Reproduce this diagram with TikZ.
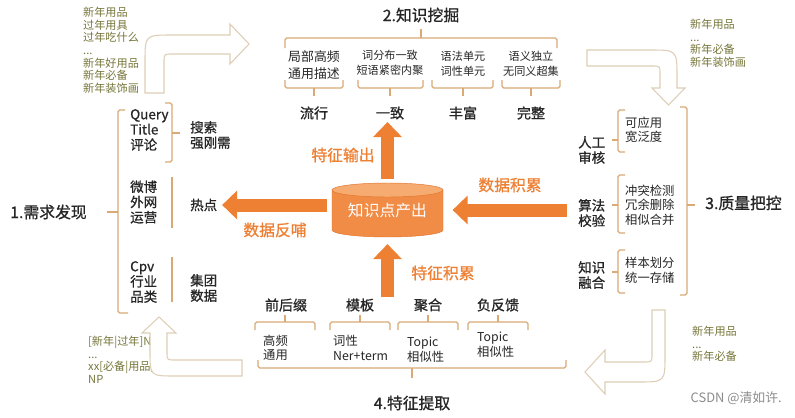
\documentclass[tikz,border=0pt]{standalone}
\usepackage{fontspec}
\setmainfont{Noto Sans CJK SC}[AutoFakeBold=0.9]
\usetikzlibrary{arrows.meta}
\definecolor{orng}{RGB}{238,128,52}
\definecolor{brkc}{RGB}{218,170,118}
\definecolor{holc}{RGB}{222,206,182}
\definecolor{kwc}{RGB}{118,118,58}
\definecolor{cylc}{RGB}{240,140,70}
\definecolor{cyltop}{RGB}{246,172,112}
\definecolor{cyledge}{RGB}{226,116,46}

\begin{document}
\begin{tikzpicture}[x=0.03cm,y=-0.03cm,inner sep=0pt,
  secttl/.style={font=\fontsize{13.5}{15}\selectfont\bfseries,text=black!85},
  itm/.style={font=\fontsize{11.5}{13}\selectfont\bfseries,align=left,text=black!85},
  sitm/.style={font=\fontsize{10.5}{12.5}\selectfont,align=left,text=black!85},
  minor/.style={font=\fontsize{9.5}{12.5}\selectfont,align=center,text=black!85},
  lbl/.style={font=\fontsize{12}{14}\selectfont\bfseries,text=black!85},
  kw/.style={font=\fontsize{9.5}{10.8}\selectfont,align=left,text=kwc},
  olbl/.style={font=\fontsize{13.5}{15}\selectfont\bfseries,text=orng},
  brk/.style={draw=brkc,line width=1.1pt,rounded corners=1.5pt},
  hollow/.style={draw=holc,fill=white,line width=0.9pt},
  blockarr/.style={draw=orng,line width=0.39cm,-{Triangle[width=0.84cm,length=0.45cm]}}]
\fill[white] (0,0) rectangle (795,417);

\node[kw,anchor=north west] (kwA) at (83,7) {新年用品\\过年用具\\过年吃什么\\...\\新年好用品\\新年必备\\新年装饰画};
\node[kw,anchor=north west] (kwB) at (690,19) {新年用品\\...\\新年必备\\新年装饰画};
\node[kw,anchor=north west] (kwC) at (692,326) {新年用品\\...\\新年必备};
\node[kw,anchor=north west] (kwD) at (88,336) {[新年|过年]N\\...\\xx[必备|用品]\\NP};

\draw[hollow] (145,93) -- (145,62) .. controls (145,35) .. (172,35) -- (230,35) -- (230,24) -- (249,44) -- (230,64) -- (230,54) -- (172,54) .. controls (164,54) .. (164,62) -- (164,93) -- cycle;
\draw[hollow] (587,50) -- (650,50) .. controls (677,50) .. (677,77) -- (677,88) -- (685,88) -- (668.5,105) -- (652,88) -- (660,88) -- (660,74) .. controls (660,66) .. (652,66) -- (587,66) -- cycle;
\draw[hollow] (652,310) -- (665,310) -- (665,355) .. controls (665,382) .. (638,382) -- (605,382) -- (605,394) -- (585,372) -- (605,350) -- (605,362) -- (644,362) .. controls (652,362) .. (652,354) -- cycle;
\draw[hollow] (150,333) -- (142,333) -- (159,317) -- (176,333) -- (167,333) -- (167,352) .. controls (167,360) .. (175,360) -- (242,360) -- (242,376) -- (175,376) .. controls (150,376) .. (150,351) -- cycle;

\node[secttl,anchor=west] (need) at (10,212) {1.需求发现};
\draw[brk] (125,110) -- (118,110) -- (118,313) -- (128,313);
\draw[brk] (118,212) -- (107,212);
\node[itm,anchor=west] (qry) at (130,130) {Query\\Title\\评论};
\node[itm,anchor=west] (sous) at (190,135) {搜索\\强刚需};
\draw[brk] (165,103) -- (172,103) -- (172,162) -- (165,162);
\draw[brk] (172,133) -- (180,133);
\node[itm,anchor=west] (wb) at (130,202) {微博\\外网\\运营};
\node[itm,anchor=west] (redian) at (190,205) {热点};
\draw[brk] (172,177) -- (172,228);
\node[itm,anchor=west] (cpv) at (130,282) {Cpv\\行业\\品类};
\node[itm,anchor=west] (jt) at (190,288) {集团\\数据};
\draw[brk] (172,257) -- (172,302);

\node[secttl] (mine) at (421,15) {2.知识挖掘};
\draw[brk] (285,48) -- (285,38) -- (557,38) -- (557,48);
\draw[brk] (421,38) -- (421,29);
\node[minor,font=\fontsize{11}{14}\selectfont] (jubu) at (314,65) {局部高频\\通用描述};
\node[minor] (cifen) at (390,63) {词分布一致\\短语紧密内聚};
\node[minor] (yufa) at (463,64) {语法单元\\词性单元};
\node[minor] (yuyi) at (531,64) {语义独立\\无同义超集};
\draw[brk] (285,80) -- (285,88) -- (343,88) -- (343,80);
\draw[brk] (314,88) -- (314,96);
\draw[brk] (358,80) -- (358,88) -- (423,88) -- (423,80);
\draw[brk] (390,88) -- (390,96);
\draw[brk] (432,80) -- (432,88) -- (493,88) -- (493,80);
\draw[brk] (463,88) -- (463,96);
\draw[brk] (502,80) -- (502,88) -- (560,88) -- (560,80);
\draw[brk] (531,88) -- (531,96);
\node[lbl] (liuxing) at (314,113) {流行};
\node[lbl] (yizhi) at (390,113) {一致};
\node[lbl] (fengfu) at (463,113) {丰富};
\node[lbl] (wanzheng) at (531,113) {完整};

\node[secttl,anchor=west] (qual) at (705,203) {3.质量把控};
\draw[brk] (680,107) -- (687,107) -- (687,295) -- (680,295);
\draw[brk] (687,205) -- (695,205);
\node[itm,anchor=west] (rg) at (578,150) {人工\\审核};
\node[sitm,anchor=west] (kyy) at (625,130) {可应用\\宽泛度};
\draw[brk] (625,110) -- (618,110) -- (618,152) -- (625,152);
\draw[brk] (618,140) -- (612,140);
\node[itm,anchor=west] (sf) at (578,213) {算法\\校验};
\node[sitm,anchor=west] (ct) at (625,205) {冲突检测\\冗余删除\\相似合并};
\draw[brk] (625,175) -- (618,175) -- (618,233) -- (625,233);
\draw[brk] (618,205) -- (612,205);
\node[itm,anchor=west] (zs) at (578,275) {知识\\融合};
\node[sitm,anchor=west] (yb) at (625,270) {样本划分\\统一存储};
\draw[brk] (625,250) -- (618,250) -- (618,293) -- (625,293);
\draw[brk] (618,272) -- (612,272);

\node[secttl] (feat) at (412,403) {4.特征提取};
\draw[brk] (258,360) -- (258,368) -- (566,368) -- (566,360);
\draw[brk] (412,368) -- (412,378);
\node[lbl] (qhz) at (286,305) {前后缀};
\node[lbl] (mb) at (360,305) {模板};
\node[lbl] (jh) at (428,305) {聚合};
\node[lbl] (ffk) at (498,305) {负反馈};
\draw[brk] (255,330) -- (255,322) -- (315,322) -- (315,330);
\draw[brk] (285,322) -- (285,315);
\draw[brk] (330,330) -- (330,322) -- (390,322) -- (390,330);
\draw[brk] (360,322) -- (360,315);
\draw[brk] (398,330) -- (398,322) -- (458,322) -- (458,330);
\draw[brk] (428,322) -- (428,315);
\draw[brk] (468,330) -- (468,322) -- (528,322) -- (528,330);
\draw[brk] (498,322) -- (498,315);
\node[sitm,anchor=west] (gp) at (263,348) {高频\\通用};
\node[sitm,anchor=west] (cx) at (333,348) {词性\\Ner+term};
\node[sitm,anchor=west] (tp1) at (407,350) {Topic\\相似性};
\node[sitm,anchor=west] (tp2) at (477,345) {Topic\\相似性};

\filldraw[fill=cylc,draw=cyledge] (332,190) -- (332,230) arc[start angle=180,end angle=0,x radius=55.5,y radius=7] -- (443,190) -- cycle;
\filldraw[fill=cyltop,draw=cyledge] (387.5,190) ellipse[x radius=55.5,y radius=7];
\node[font=\fontsize{13.5}{15}\selectfont,text=white,minimum width=3.33cm,minimum height=1.62cm] (cyl) at (387.5,211) {知识点产出};
\coordinate (accR) at (567,210);
\coordinate (accB) at (387.5,297);
\draw[blockarr,shorten <=4pt,shorten >=2pt] (cyl.north) -- (cyl.north |- yizhi.south);
\draw[blockarr,shorten <=4pt,shorten >=4pt] (cyl.west |- redian.east) -- (redian.east);
\draw[blockarr,shorten >=8pt] (accR) -- (accR -| cyl.east);
\draw[blockarr,shorten >=5pt] (accB) -- (accB |- cyl.south);
\node[olbl] (tzsc) at (343,155) {特征输出};
\node[olbl] (sjfb) at (275,230) {数据反哺};
\node[olbl] (sjjl) at (510,185) {数据积累};
\node[olbl] (tzjl) at (443,273) {特征积累};

\node[font=\fontsize{11}{13}\selectfont,text=black!45,anchor=east] (wm) at (782,398) {CSDN @清如许.};
\end{tikzpicture}
\end{document}
